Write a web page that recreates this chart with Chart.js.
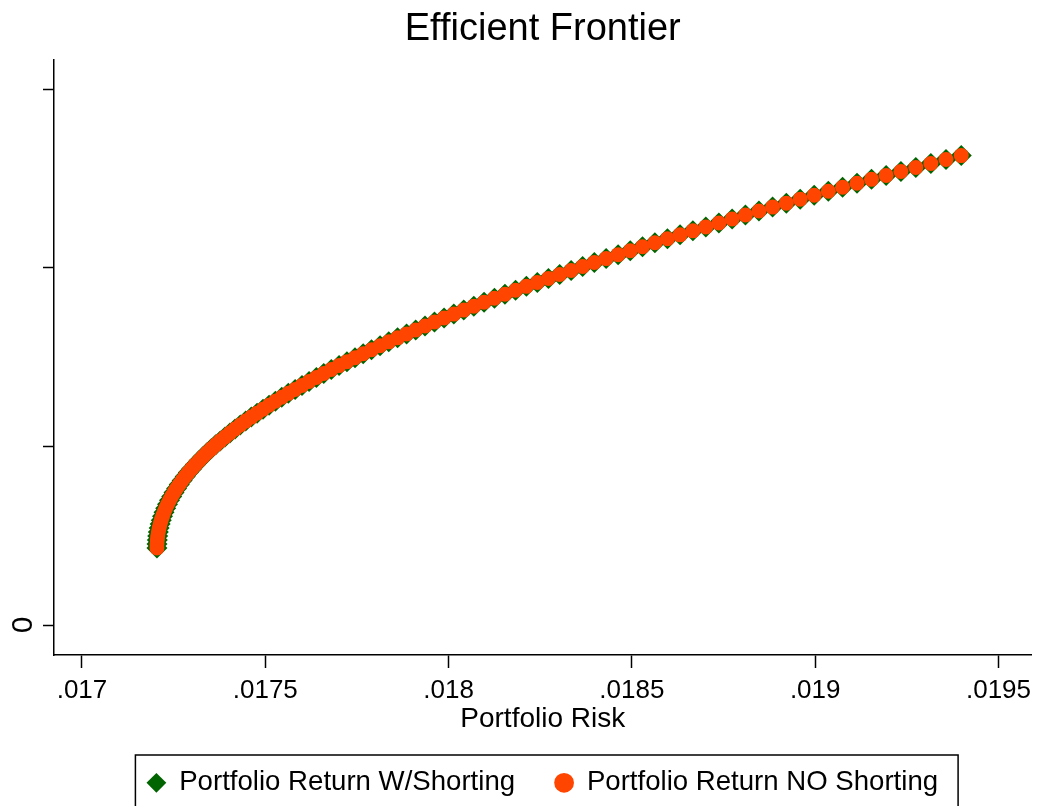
<!DOCTYPE html>
<html>
<head>
<meta charset="utf-8">
<title>Efficient Frontier</title>
<script src="https://cdn.jsdelivr.net/npm/chart.js@4.4.1/dist/chart.umd.min.js"></script>
<style>
  html, body { margin: 0; padding: 0; background: #fff; }
  #wrap { width: 1042px; height: 806px; }
</style>
</head>
<body>
<div id="wrap"><canvas id="frontierChart" width="1042" height="806"></canvas></div>
<script>
// portfolio risk (x)
const portfolioRisk = [
  0.0172045, 0.0172047, 0.0172055, 0.0172066, 0.0172083, 0.0172105, 0.0172131, 0.0172162, 0.0172197, 0.0172238,
  0.0172283, 0.0172333, 0.0172388, 0.0172447, 0.0172511, 0.0172580, 0.0172654, 0.0172732, 0.0172815, 0.0172903,
  0.0172995, 0.0173092, 0.0173194, 0.0173300, 0.0173411, 0.0173527, 0.0173647, 0.0173772, 0.0173902, 0.0174036,
  0.0174175, 0.0174318, 0.0174466, 0.0174619, 0.0174776, 0.0174938, 0.0175104, 0.0175275, 0.0175450, 0.0175629,
  0.0175814, 0.0176002, 0.0176195, 0.0176393, 0.0176595, 0.0176801, 0.0177012, 0.0177227, 0.0177447, 0.0177670,
  0.0177898, 0.0178131, 0.0178368, 0.0178609, 0.0178854, 0.0179103, 0.0179357, 0.0179615, 0.0179877, 0.0180143,
  0.0180414, 0.0180688, 0.0180967, 0.0181250, 0.0181537, 0.0181827, 0.0182122, 0.0182421, 0.0182724, 0.0183031,
  0.0183342, 0.0183657, 0.0183975, 0.0184298, 0.0184625, 0.0184955, 0.0185289, 0.0185627, 0.0185969, 0.0186314,
  0.0186664, 0.0187017, 0.0187373, 0.0187734, 0.0188098, 0.0188466, 0.0188837, 0.0189212, 0.0189590, 0.0189972,
  0.0190358, 0.0190747, 0.0191140, 0.0191536, 0.0191935, 0.0192338, 0.0192745, 0.0193155, 0.0193568, 0.0193984
];

// portfolio return (y), with shorting
const returnWithShorting = [
  0.000216, 0.0002271, 0.0002382, 0.0002493, 0.0002604, 0.0002715, 0.0002826, 0.0002937, 0.0003048, 0.0003159,
  0.000327, 0.0003381, 0.0003492, 0.0003603, 0.0003714, 0.0003825, 0.0003936, 0.0004047, 0.0004158, 0.0004269,
  0.000438, 0.0004491, 0.0004602, 0.0004713, 0.0004824, 0.0004935, 0.0005046, 0.0005157, 0.0005268, 0.0005379,
  0.000549, 0.0005601, 0.0005712, 0.0005823, 0.0005934, 0.0006045, 0.0006156, 0.0006267, 0.0006378, 0.0006489,
  0.00066, 0.0006711, 0.0006822, 0.0006933, 0.0007044, 0.0007155, 0.0007266, 0.0007377, 0.0007488, 0.0007599,
  0.000771, 0.0007821, 0.0007932, 0.0008043, 0.0008154, 0.0008265, 0.0008376, 0.0008487, 0.0008598, 0.0008709,
  0.000882, 0.0008931, 0.0009042, 0.0009153, 0.0009264, 0.0009375, 0.0009486, 0.0009597, 0.0009708, 0.0009819,
  0.000993, 0.0010041, 0.0010152, 0.0010263, 0.0010374, 0.0010485, 0.0010596, 0.0010707, 0.0010818, 0.0010929,
  0.001104, 0.0011151, 0.0011262, 0.0011373, 0.0011484, 0.0011595, 0.0011706, 0.0011817, 0.0011928, 0.0012039,
  0.001215, 0.0012261, 0.0012372, 0.0012483, 0.0012594, 0.0012705, 0.0012816, 0.0012927, 0.0013038, 0.0013149
];

// without shorting the frontier lies right on top of the other one
const returnNoShorting = returnWithShorting.slice();

// axis ticks
const xTickValues = [0.017, 0.0175, 0.018, 0.0185, 0.019, 0.0195];
const xTickLabels = [".017", ".0175", ".018", ".0185", ".019", ".0195"];
const yTickValues = [0, 0.0005, 0.001, 0.0015];
const yTickLabels = ["0", "", "", ""];

const seriesNames = ["Portfolio Return W/Shorting", "Portfolio Return NO Shorting"];

Chart.defaults.font.family = "'Liberation Sans', Arial, sans-serif";
Chart.defaults.color = "#000";

function toPoints(xs, ys) {
    return xs.map((x, i) => ({ x: x, y: ys[i] }));
}

// frame round the legend, like the Stata one
const legendFrame = {
    id: "legendFrame",
    afterDraw(chart) {
        const lg = chart.legend;
        if (!lg || !lg.lineWidths) return;
        const pad = lg.options.labels.padding;
        const startX = (lg.left + pad + lg.right - lg.lineWidths[0]) / 2;
        const ctx = chart.ctx;
        ctx.save();
        ctx.strokeStyle = "#000";
        ctx.lineWidth = 1.5;
        ctx.strokeRect(startX - 12, lg.top + 26, lg.lineWidths[0] - pad + 32, 90);
        ctx.restore();
    }
};

const ctx = document.getElementById("frontierChart").getContext("2d");

new Chart(ctx, {
    type: "scatter",
    data: {
        datasets: [
            {
                // drawn last = on top
                label: seriesNames[1],
                data: toPoints(portfolioRisk, returnNoShorting),
                pointStyle: "circle",
                pointRadius: 7.5,
                pointBackgroundColor: "rgb(255, 69, 0)",
                pointBorderWidth: 0,
                backgroundColor: "rgb(255, 69, 0)",
                borderColor: "rgb(255, 69, 0)",
                borderWidth: 0
            },
            {
                label: seriesNames[0],
                data: toPoints(portfolioRisk, returnWithShorting),
                pointStyle: "rectRot",
                pointRadius: 10.5,
                pointBackgroundColor: "rgb(0, 100, 0)",
                pointBorderWidth: 0,
                backgroundColor: "rgb(0, 100, 0)",
                borderColor: "rgb(0, 100, 0)",
                borderWidth: 0
            }
        ]
    },
    options: {
        responsive: false,
        animation: false,
        events: [],
        layout: { padding: { left: 0, right: 10, top: 0, bottom: 0 } },
        plugins: {
            title: {
                display: true,
                text: "Efficient Frontier",
                fullSize: false,
                color: "#000",
                font: { size: 38, weight: "normal", lineHeight: 1 },
                padding: { top: 11, bottom: 11 }
            },
            legend: {
                position: "bottom",
                fullSize: false,
                reverse: true,
                maxHeight: 77,
                labels: {
                    usePointStyle: true,
                    boxWidth: 18,
                    boxHeight: 14,
                    padding: 40,
                    color: "#000",
                    font: { size: 27.6 }
                }
            },
            tooltip: { enabled: false }
        },
        scales: {
            x: {
                type: "linear",
                min: 0.0169237,
                max: 0.019590,
                afterBuildTicks: scale => {
                    scale.ticks = xTickValues.map(v => ({ value: v }));
                },
                afterFit: scale => { scale.height = 74; },
                grid: {
                    drawOnChartArea: false,
                    drawTicks: true,
                    tickLength: 13,
                    tickColor: "#000",
                    tickWidth: 1.5
                },
                border: { display: true, color: "#000", width: 1.5 },
                ticks: {
                    autoSkip: false,
                    maxRotation: 0,
                    padding: 7,
                    color: "#000",
                    font: { size: 26 },
                    callback: (value, index) => xTickLabels[index]
                },
                title: {
                    display: true,
                    text: "Portfolio Risk",
                    color: "#000",
                    font: { size: 28, lineHeight: 1 },
                    padding: { top: 0, bottom: -4.5 }
                }
            },
            y: {
                type: "linear",
                min: -0.000084,
                max: 0.0015826,
                afterBuildTicks: scale => {
                    scale.ticks = yTickValues.map(v => ({ value: v }));
                },
                afterFit: scale => { scale.width = 54; },
                grid: {
                    drawOnChartArea: false,
                    drawTicks: true,
                    tickLength: 11,
                    tickColor: "#000",
                    tickWidth: 1.5
                },
                border: { display: true, color: "#000", width: 1.5 },
                ticks: {
                    autoSkip: false,
                    minRotation: 90,
                    maxRotation: 90,
                    crossAlign: "center",
                    padding: 11,
                    color: "#000",
                    font: { size: 30 },
                    callback: (value, index) => yTickLabels[index]
                }
            }
        }
    },
    plugins: [legendFrame]
});
</script>
</body>
</html>
